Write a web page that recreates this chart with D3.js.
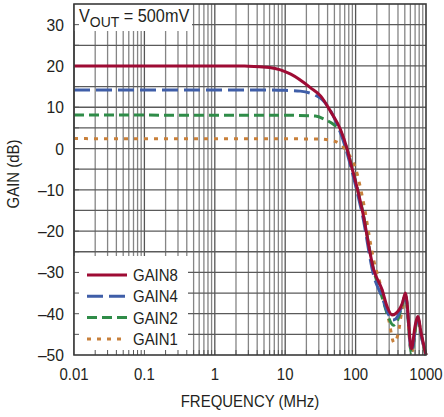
<!DOCTYPE html>
<html>
<head>
<meta charset="utf-8">
<script src="https://cdn.jsdelivr.net/npm/d3@7"></script>
<style>
  body { margin: 0; background: #fff; }
  svg text { font-family: "Liberation Sans", Arial, sans-serif; fill: #231f20; }
</style>
</head>
<body>
<svg id="chart" width="444" height="417"></svg>
<script>
// frequency response, one array per gain setting (MHz, dB)
var gain8 = [[0.01,20],[1,20],[3,19.95],[6,19.6],[12,18],[23,14.7],[32,12.7],[44,9],[61,4.6],[76,-0.2],[85,-3.5],[100,-8],[124,-14.8],[181,-29.4],
  [238,-34.2],[281,-38.3],[330,-40.3],[368,-40],[458,-37.6],[511,-35],[622,-48.5],[700,-43],[764,-40.7],[860,-45],[1000,-50]];
var gain4 = [[0.01,14.2],[5,14.2],[10,14.1],[16.4,13.9],[26.8,12.9],[33.3,11.9],[40,10.3],[50,7.3],[61,3.8],[76,-1.2],[100,-9],[124,-15.8],[181,-30.8],
  [238,-36],[281,-39.5],[340,-41.5],[375,-41.2],[458,-38],[511,-35.5],[622,-49],[764,-41],[860,-45.5],[1000,-50]];
var gain2 = [[0.01,8.1],[10,8.05],[26.8,7.85],[37,7],[49,5.8],[61,4.2],[76,-0.3],[100,-8],[124,-14.6],[181,-29.5],
  [238,-36],[281,-40],[345,-42.8],[385,-42],[458,-38],[511,-35.5],[622,-49.5],[764,-41],[860,-45.5],[1000,-50]];
var gain1 = [[0.01,2.4],[10,2.35],[28.6,2.3],[44,2.0],[61,1.0],[84,-2],[100,-4.8],[124,-11.5],[181,-27],[238,-34.5],
  [300,-42],[350,-47],[400,-45],[458,-39],[511,-36],[622,-49.5],[764,-41],[860,-45.5],[1000,-50]];

var seriesNames = ["GAIN8", "GAIN4", "GAIN2", "GAIN1"];
var seriesData = [gain8, gain4, gain2, gain1];
var seriesColors = ["#9e0b34", "#3f5ea8", "#2f8c48", "#c8803b"];
var seriesDash = [null, "16,6", "10,5", "4,6"];

var yTicks = [30, 20, 10, 0, -10, -20, -30, -40, -50];
var xTicks = [0.01, 0.1, 1, 10, 100, 1000];
var xTickLabels = ["0.01", "0.1", "1", "10", "100", "1000"];

var svg = d3.select("#chart");
var pLeft = 74, pRight = 426, pTop = 4, pBottom = 355;

var x = d3.scaleLog().domain([0.01, 1000]).range([pLeft, pRight]);
var y = d3.scaleLinear().domain([-50, 35]).range([pBottom, pTop]);

// squeeze text sideways, the original uses a condensed face
function condense(sel, f) {
    sel.each(function () {
        var w = this.getComputedTextLength();
        d3.select(this).attr("textLength", w * (f || 0.88)).attr("lengthAdjust", "spacingAndGlyphs");
    });
}

// minor + major vertical grid values
var vgrid = [];
for (var dec = 0; dec < 5; dec++) {
    for (var k = 1; k < 10; k++) vgrid.push(k * Math.pow(10, dec - 2));
}
var hgrid = d3.range(-45, 35, 5);

var grid = svg.append("g");
grid.selectAll(".v").data(vgrid).enter().append("line")
    .attr("x1", d => x(d)).attr("x2", d => x(d))
    .attr("y1", pTop).attr("y2", pBottom)
    .attr("stroke", (d, i) => i % 9 == 0 ? "#555" : "#858585")
    .attr("stroke-width", 1.3);
grid.selectAll(".h").data(hgrid).enter().append("line")
    .attr("x1", pLeft).attr("x2", pRight)
    .attr("y1", d => y(d)).attr("y2", d => y(d))
    .attr("stroke", "#5a5a5a")
    .attr("stroke-width", 1.3);

// white boxes behind the label and the legend
svg.append("rect").attr("x", pLeft).attr("y", pTop).attr("width", 118).attr("height", 27).attr("fill", "#fff");
svg.append("rect").attr("x", pLeft).attr("y", 256).attr("width", 114).attr("height", pBottom - 256).attr("fill", "#fff");

// small inward ticks
svg.append("g").selectAll("line").data(vgrid.slice(1)).enter().append("line")
    .attr("x1", d => x(d)).attr("x2", d => x(d))
    .attr("y1", pBottom).attr("y2", pBottom - 5)
    .attr("stroke", "#555").attr("stroke-width", 1);
svg.append("g").selectAll("line").data(hgrid).enter().append("line")
    .attr("x1", pLeft).attr("x2", pLeft + 5)
    .attr("y1", d => y(d)).attr("y2", d => y(d))
    .attr("stroke", "#555").attr("stroke-width", 1);

// curves, lowest gain drawn first
var line = d3.line()
    .x(d => x(d[0]))
    .y(d => y(d[1]))
    .curve(d3.curveMonotoneX);

for (var i = seriesData.length - 1; i >= 0; i--) {
    svg.append("path")
        .attr("d", line(seriesData[i]))
        .attr("fill", "none")
        .attr("stroke", seriesColors[i])
        .attr("stroke-width", 3)
        .attr("stroke-dasharray", seriesDash[i]);
}

// frame
svg.append("rect")
    .attr("x", pLeft).attr("y", pTop)
    .attr("width", pRight - pLeft).attr("height", pBottom - pTop)
    .attr("fill", "none").attr("stroke", "#3a3a3a").attr("stroke-width", 1.6);

// tick labels
svg.append("g").selectAll("text").data(yTicks).enter().append("text")
    .attr("x", 64).attr("y", d => y(d) + 6)
    .attr("text-anchor", "end")
    .attr("font-size", 17)
    .text(d => d < 0 ? "\u2013" + Math.abs(d) : d)
    .call(condense, 0.92);
svg.append("g").selectAll("text").data(xTicks).enter().append("text")
    .attr("x", d => x(d)).attr("y", 380)
    .attr("text-anchor", "middle")
    .attr("font-size", 17)
    .text((d, i) => xTickLabels[i])
    .call(condense, 0.88);

// axis titles
svg.append("text")
    .attr("transform", "translate(19,174) rotate(-90)")
    .attr("text-anchor", "middle")
    .attr("font-size", 17)
    .text("GAIN (dB)")
    .call(condense);
svg.append("text")
    .attr("x", 250).attr("y", 407)
    .attr("text-anchor", "middle")
    .attr("font-size", 17)
    .text("FREQUENCY (MHz)")
    .call(condense);

// V_OUT label
var vlab = svg.append("g").attr("transform", "translate(79,22) scale(0.93,1)");
var vt = vlab.append("text").attr("font-size", 17.5);
vt.append("tspan").text("V");
vt.append("tspan").attr("dy", 5).attr("font-size", 15).text("OUT");
vt.append("tspan").attr("dy", -5).text(" = 500mV");

// legend
var legend = svg.append("g");
seriesNames.forEach(function (name, i) {
    var ly = 275 + i * 21.3;
    legend.append("line")
        .attr("x1", 87).attr("x2", 127)
        .attr("y1", ly).attr("y2", ly)
        .attr("stroke", seriesColors[i])
        .attr("stroke-width", 3)
        .attr("stroke-dasharray", seriesDash[i]);
    legend.append("text")
        .attr("x", 133).attr("y", ly + 6)
        .attr("font-size", 17)
        .text(name)
        .call(condense);
});
</script>
</body>
</html>
